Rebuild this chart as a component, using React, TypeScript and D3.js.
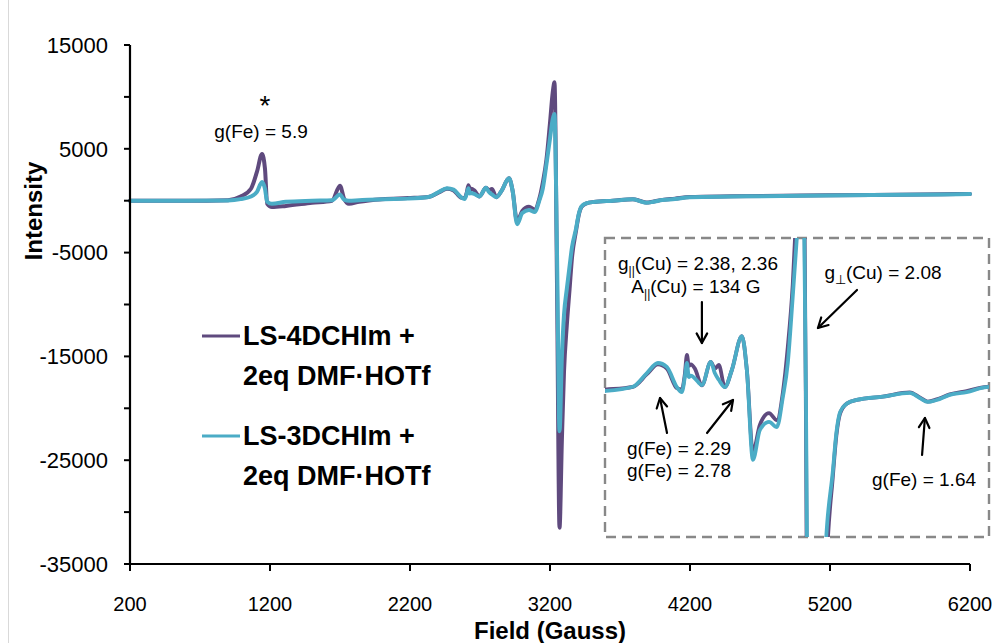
import React from "react";
import * as d3 from "d3";

// ---- data ----
const FIELD = [200, 600, 900, 990, 1064, 1107, 1143, 1164, 1180, 1214, 1314, 1500, 1643, 1700, 1729, 1764, 1836, 2000, 2185, 2332, 2406, 2464, 2511, 2564, 2590, 2606, 2617, 2627, 2638, 2659, 2696, 2743, 2764, 2785, 2817, 2854, 2907, 2933, 2965, 3002, 3050, 3091, 3123, 3149, 3175, 3200, 3220, 3232, 3250, 3268, 3285, 3300, 3320, 3340, 3357, 3386, 3405, 3425, 3460, 3513, 3650, 3792, 3845, 3887, 3934, 4003, 4092, 4198, 4500, 5000, 5500, 6000, 6200];
const PURPLE = [0, 0, 50, 400, 1150, 2800, 4500, 3100, -300, -600, -500, -200, 0, 1450, 200, -300, -100, 150, 250, 350, 800, 1150, 1000, 300, 250, 800, 1490, 1100, 1150, 1000, 400, 1240, 1000, 1130, 340, 950, 2160, 950, -1980, -1000, -590, -840, 150, 1770, 4000, 7500, 10500, 11400, -8000, -31500, -23000, -16500, -12000, -8500, -5500, -2900, -1400, -600, -250, -120, 0, 150, -30, -180, -100, 80, 200, 350, 420, 500, 560, 620, 650];
const CYAN = [0, 0, 30, 150, 400, 850, 1800, 1150, -100, -300, -100, 0, 50, 600, 100, 0, 50, 150, 200, 350, 840, 1200, 1060, 340, 160, 700, 1200, 700, 750, 650, 410, 1240, 840, 600, 340, 950, 2160, 950, -2260, -1190, -900, -1090, -15, 1200, 3560, 6000, 7900, 8350, -5000, -22200, -15000, -11000, -8500, -6300, -4500, -2700, -1300, -550, -250, -120, 0, 130, -50, -190, -120, 60, 160, 340, 400, 480, 540, 600, 640];

const X_TICKS = [200, 1200, 2200, 3200, 4200, 5200, 6200];
const Y_TICKS = [15000, 5000, -5000, -15000, -25000, -35000];
const Y_MINOR = [10000, 0, -10000, -20000, -30000];

const SERIES_NAMES = [["LS-4DCHIm +", "2eq DMF·HOTf"], ["LS-3DCHIm +", "2eq DMF·HOTf"]];
const COLORS = ["#5F4A7E", "#4BACC6"];

const INSET_X = [2185, 4210];
const INSET_Y = [-5014, 5664];

// arrows in inset data coordinates: [tailField, tailVal, headField, headVal]
const ARROWS = [
  [2696, 3378, 2696, 1914],
  [3514, 3807, 3308, 2450],
  [2512, -1299, 2475, -50],
  [2723, -1299, 2860, -121],
  [3857, -2085, 3872, -764],
];

export default function App() {
  const W = 997, H = 643;
  const x = d3.scaleLinear().domain([200, 6200]).range([130, 970]);
  const y = d3.scaleLinear().domain([-35000, 15000]).range([564, 45]);

  const box = { x0: 605, x1: 989, y0: 238, y1: 537 };
  const xi = d3.scaleLinear().domain(INSET_X).range([box.x0, box.x1]);
  const yi = d3.scaleLinear().domain(INSET_Y).range([box.y1, box.y0]);

  const pts = (vals: number[]) => FIELD.map((f, i) => [f, vals[i]] as [number, number]);
  const mainLine = d3.line<[number, number]>().x(d => x(d[0])).y(d => y(d[1])).curve(d3.curveMonotoneX);
  const insetLine = d3.line<[number, number]>().x(d => xi(d[0])).y(d => yi(d[1])).curve(d3.curveMonotoneX);

  const series = [PURPLE, CYAN];
  const sans = "'Liberation Sans', Arial, sans-serif";

  const arrowHead = (x1: number, y1: number, x2: number, y2: number) => {
    const a = Math.atan2(y2 - y1, x2 - x1);
    const L = 11, sp = 0.5;
    const p1 = [x2 - L * Math.cos(a - sp), y2 - L * Math.sin(a - sp)];
    const p2 = [x2 - L * Math.cos(a + sp), y2 - L * Math.sin(a + sp)];
    return `M${p1[0]},${p1[1]}L${x2},${y2}L${p2[0]},${p2[1]}`;
  };

  return (
    <svg width={W} height={H} style={{ position: "absolute", left: 0, top: 0, background: "#fff" }} fontFamily={sans}>
      <defs>
        <clipPath id="insetClip">
          <rect x={box.x0} y={box.y0} width={box.x1 - box.x0} height={box.y1 - box.y0} />
        </clipPath>
      </defs>
      <line x1={8.5} x2={8.5} y1={0} y2={H} stroke="#d9d9d9" strokeWidth={1} />

      {/* main series */}
      {series.map((s, i) => (
        <path key={i} d={mainLine(pts(s)) || ""} fill="none" stroke={COLORS[i]} strokeWidth={4} strokeLinejoin="round" strokeLinecap="round" />
      ))}

      {/* axes */}
      <line x1={x(200)} x2={x(200)} y1={y(15000)} y2={y(-35000)} stroke="#000" strokeWidth={2.2} />
      <line x1={x(200)} x2={x(6200)} y1={y(-35000)} y2={y(-35000)} stroke="#000" strokeWidth={2.2} />
      {[...Y_TICKS, ...Y_MINOR].map(t => (
        <line key={"yt" + t} x1={x(200) - 6} x2={x(200)} y1={y(t)} y2={y(t)} stroke="#000" strokeWidth={2} />
      ))}
      {Y_TICKS.map(t => (
        <text key={"yl" + t} x={108} y={y(t)} dy="0.35em" textAnchor="end" fontSize={22} fill="#000">{t}</text>
      ))}
      {X_TICKS.map(t => (
        <g key={"xt" + t}>
          <line x1={x(t)} x2={x(t)} y1={y(-35000)} y2={y(-35000) + 7} stroke="#000" strokeWidth={2} />
          <text x={x(t)} y={604} dy="0.35em" textAnchor="middle" fontSize={20} fill="#000">{t}</text>
        </g>
      ))}
      <text x={550} y={631} dy="0.35em" textAnchor="middle" fontSize={24} fontWeight="bold">Field (Gauss)</text>
      <text transform="translate(34,211) rotate(-90)" dy="0.35em" textAnchor="middle" fontSize={24} fontWeight="bold">Intensity</text>

      {/* main annotation */}
      <text x={265} y={115} textAnchor="middle" fontSize={28}>*</text>
      <text x={261} y={131} dy="0.35em" textAnchor="middle" fontSize={19}>g(Fe) = 5.9</text>

      {/* legend */}
      {SERIES_NAMES.map((nm, i) => {
        const cy = 336 + i * 100;
        return (
          <g key={"lg" + i}>
            <line x1={202} x2={240} y1={cy} y2={cy} stroke={COLORS[i]} strokeWidth={3} />
            <text x={243} y={cy} dy="0.35em" fontSize={27} fontWeight="bold">{nm[0]}</text>
            <text x={243} y={cy + 40} dy="0.35em" fontSize={27} fontWeight="bold">{nm[1]}</text>
          </g>
        );
      })}

      {/* inset */}
      <rect x={box.x0} y={box.y0} width={box.x1 - box.x0} height={box.y1 - box.y0} fill="#fff" stroke="#888" strokeWidth={2.4} strokeDasharray="10,6" />
      <g clipPath="url(#insetClip)">
        {series.map((s, i) => (
          <path key={"in" + i} d={insetLine(pts(s)) || ""} fill="none" stroke={COLORS[i]} strokeWidth={3.8} strokeLinejoin="round" strokeLinecap="round" />
        ))}
      </g>
      {ARROWS.map((a, i) => {
        const x1 = xi(a[0]), y1 = yi(a[1]), x2 = xi(a[2]), y2 = yi(a[3]);
        return (
          <g key={"ar" + i} stroke="#000" strokeWidth={2.2} fill="none" strokeLinecap="round" strokeLinejoin="round">
            <line x1={x1} y1={y1} x2={x2} y2={y2} />
            <path d={arrowHead(x1, y1, x2, y2)} />
          </g>
        );
      })}
      <text x={698} y={263} dy="0.35em" textAnchor="middle" fontSize={19}>
        g<tspan fontSize={12} dy="5">||</tspan><tspan dy="-5">(Cu) = 2.38, 2.36</tspan>
      </text>
      <text x={696} y={286} dy="0.35em" textAnchor="middle" fontSize={19}>
        A<tspan fontSize={12} dy="5">||</tspan><tspan dy="-5">(Cu) = 134 G</tspan>
      </text>
      <text x={883} y={272} dy="0.35em" textAnchor="middle" fontSize={19}>
        g<tspan fontSize={13} dy="5">⊥</tspan><tspan dy="-5">(Cu) = 2.08</tspan>
      </text>
      <text x={679} y={448} dy="0.35em" textAnchor="middle" fontSize={19}>g(Fe) = 2.29</text>
      <text x={679} y={470} dy="0.35em" textAnchor="middle" fontSize={19}>g(Fe) = 2.78</text>
      <text x={924} y={479} dy="0.35em" textAnchor="middle" fontSize={19}>g(Fe) = 1.64</text>
    </svg>
  );
}
